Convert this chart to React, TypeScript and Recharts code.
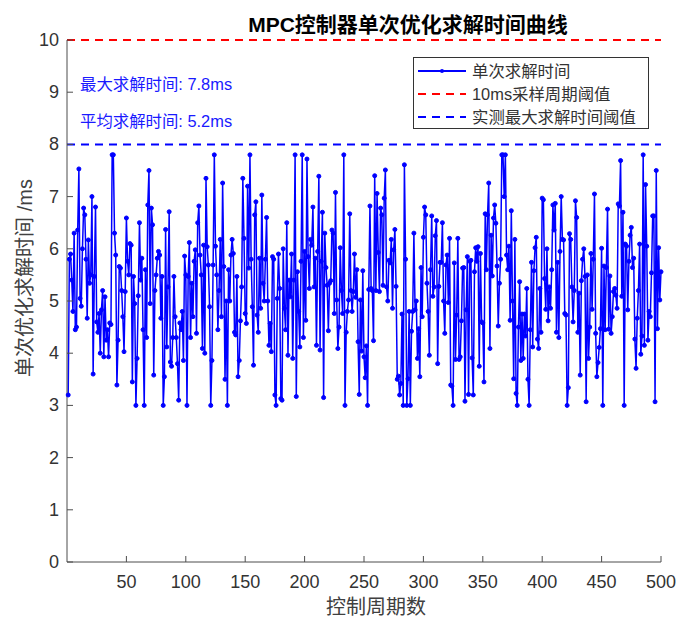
import { LineChart, Line, XAxis, YAxis, ReferenceLine } from "recharts";

// solve time per control cycle (ms) in six stretches
const timesA = [
  3.2, 5.8, 5.9, 5.4, 4.8, 6.3, 4.45, 4.5, 6.36, 7.53,
  5.05, 4.9, 6.0, 6.78, 6.65, 5.8, 4.67, 6.17, 5.34, 5.5,
  7.0, 3.6, 5.47, 6.8, 4.6, 4.4, 4.76, 4.0, 4.83, 5.2,
  3.93, 5.08, 4.25, 4.45, 3.93, 4.58, 4.55, 7.8, 7.8, 6.3,
  5.88, 3.39, 4.25, 5.66, 5.63, 5.2, 4.7, 4.03, 5.18, 6.59,
  5.76, 5.5, 6.1, 6.07, 3.45, 5.47, 4.95, 3.0, 3.9, 5.1,
  6.5, 5.4, 5.82, 4.45, 3.0, 5.6, 4.3, 6.84, 7.5, 4.95,
  6.78, 6.46, 3.58, 5.2, 5.5, 5.82, 5.95, 5.88, 4.67, 5.47,
  3.0,
];
const timesB = [
  3.55, 6.37, 4.12, 5.27, 6.71, 3.83, 3.75, 4.3, 5.47, 4.7,
  4.3, 3.8, 3.1, 4.58, 4.45, 4.8, 3.86, 5.86, 5.5,
  3.0, 5.47, 6.12, 4.3, 5.34, 4.7, 5.76, 5.98, 4.38,
  6.5, 6.82, 5.88, 5.5, 4.09, 6.07, 4.0, 7.35, 6.04,
  5.69, 4.89, 3.0, 3.86, 5.69, 7.8, 6.05, 5.5, 4.45, 5.2,
  6.18, 4.7, 7.26, 5.66, 3.5, 5.0, 3.0, 5.6, 5.0,
  5.88, 6.18, 5.91, 4.4, 4.35, 5.47, 3.55, 3.86, 4.62,
  5.27, 7.35, 6.2, 4.76, 4.57, 7.2, 5.63, 7.8, 5.8, 4.89,
  3.77, 6.65, 6.9, 4.73, 4.4, 5.82, 4.86, 7.03, 5.34,
];
const timesC = [
  5.0, 5.8, 6.6, 5.0, 4.15, 4.57, 4.03, 5.85, 5.8, 3.2,
  3.0, 5.05, 5.9, 5.24, 3.13, 3.1, 6.0, 4.86, 4.45, 6.5,
  3.96, 5.4, 5.08, 5.9, 3.9, 5.4, 7.8, 3.17, 5.56, 4.8,
  4.12, 5.76, 7.8, 4.3, 5.95, 4.63, 7.72, 5.85, 5.24,
  6.18, 6.07, 6.8, 5.27, 5.82, 4.15, 5.95, 7.39, 4.06, 5.76,
  6.7, 3.15, 6.3, 5.64, 5.3, 4.43, 5.34, 5.39, 6.36, 6.3,
  4.76, 7.08, 5.02, 4.09, 4.5, 6.02, 5.2, 4.76, 7.8,
  3.0, 4.4, 4.8, 5.02, 6.67, 5.2, 4.8, 5.18, 5.9, 5.07,
  5.6, 4.22, 3.21, 5.02, 4.04, 5.58,
];
const timesD = [
  3.93, 3.53, 4.14, 3.0, 5.22, 6.82, 5.24, 5.2, 4.24, 7.4,
  5.2, 7.06, 5.93, 5.18, 6.78, 6.65, 5.3, 6.97, 7.51, 5.27,
  5.0, 5.78, 5.73, 6.18, 4.86, 5.98, 6.37, 5.28, 3.5,
  3.56, 3.2, 3.42, 4.75, 3.0, 7.61, 5.8, 3.0, 3.51, 4.8,
  3.0, 4.42, 4.8, 6.3, 4.83, 5.0, 3.9, 4.47, 3.55, 5.64,
  4.7, 6.22, 6.8, 6.65, 5.34, 4.8, 3.96, 5.6, 6.63, 5.09,
  5.27, 6.25, 6.54, 3.8, 5.28, 5.74, 5.74, 6.5, 5.0,
  4.38, 5.69, 5.88, 4.97, 6.2, 3.39, 3.37, 3.0, 5.73, 3.88,
  4.73, 6.2, 3.88, 3.93, 4.62, 5.63,
];
const timesE = [
  5.64, 3.08, 4.83, 5.85, 3.21, 5.76, 5.78, 3.91, 3.2, 5.56,
  6.02, 5.76, 6.04, 3.75, 5.91, 4.6, 4.58, 3.45, 6.67, 5.6,
  6.65, 7.26, 4.09, 6.26, 5.48, 6.59, 6.84, 6.49, 5.67, 4.52,
  5.34, 5.8, 7.8, 7.8, 7.0, 7.8, 5.88, 5.6, 6.05, 4.63,
  6.73, 5.0, 3.51, 6.18, 3.23, 3.0, 4.5, 5.37, 3.86, 4.75,
  3.9, 4.75, 4.33, 5.24, 3.5, 3.0, 4.45, 5.74, 4.12,
  5.58, 6.02, 6.22, 4.27, 4.09, 5.24, 4.4, 6.97,
  6.94, 5.43, 4.84, 6.0, 4.62, 5.27, 4.86, 5.6, 6.84,
  6.36, 6.87, 4.4, 5.74, 4.3, 5.95, 7.0, 6.18,
];
const timesF = [
  6.17, 4.76, 4.73, 3.0, 3.34, 6.29, 6.18, 5.27, 4.6,
  5.2, 6.92, 6.6, 4.4, 5.15, 3.58, 5.39, 5.8, 6.0, 5.47,
  3.07, 5.5, 3.9, 4.5, 5.91, 4.84, 5.8, 7.05, 4.38,
  3.55, 3.82, 4.11, 4.47, 6.01, 3.0, 5.67, 4.45, 5.64, 6.76,
  4.46, 5.48, 4.38, 4.7, 5.18, 5.24, 5.11, 4.86, 6.86, 6.82,
  7.69, 5.09, 6.7, 3.0, 6.09, 6.05, 4.83, 5.76, 6.26, 6.41,
  5.64, 5.82, 4.27, 3.71, 4.67, 5.2, 6.09, 3.98, 4.33,
  7.8, 4.15, 7.23, 6.05, 4.25, 4.8, 4.7, 5.54, 6.63, 6.63,
  3.07, 7.5, 4.47, 6.02, 5.02, 5.56,
];

const xTicks = [50, 100, 150, 200, 250, 300, 350, 400, 450, 500];
const yTicks = [0, 1, 2, 3, 4, 5, 6, 7, 8, 9, 10];
const samplingLimit = 10;
const measuredMax = 8;
const legendNames = ["单次求解时间", "10ms采样周期阈值", "实测最大求解时间阈值"];

const allTimes = [...timesA, ...timesB, ...timesC, ...timesD, ...timesE, ...timesF];
const data = allTimes.map((t, i) => ({ cycle: i + 1, time: t }));

const FONT = "'Liberation Sans', Arial, 'Noto Sans CJK SC', sans-serif";
const AXIS = "#4d4d4d";
const TEXT = "#333";

const XTick = (props: any) => {
  const { x, y, payload } = props;
  return (
    <g>
      <line x1={x} x2={x} y1={y} y2={y - 6} stroke={AXIS} />
      <text x={x} y={y + 26} textAnchor="middle" fontSize={18} fill={TEXT} fontFamily={FONT}>
        {payload.value}
      </text>
    </g>
  );
};

const YTick = (props: any) => {
  const { x, y, payload } = props;
  return (
    <g>
      <line x1={x} x2={x + 6} y1={y} y2={y} stroke={AXIS} />
      <text x={x - 8} y={y + 6} textAnchor="end" fontSize={18} fill={TEXT} fontFamily={FONT}>
        {payload.value}
      </text>
    </g>
  );
};

function LegendBox() {
  const rows = [
    { name: legendNames[0], color: "#0000ff", dash: undefined, dot: true },
    { name: legendNames[1], color: "#ff0000", dash: "8 6", dot: false },
    { name: legendNames[2], color: "#0000ff", dash: "8 6", dot: false },
  ];
  return (
    <g>
      <rect x={413.5} y={57.5} width={235} height={71} fill="#fff" stroke="#333" strokeWidth={1} />
      {rows.map((r, i) => {
        const cy = 71 + i * 23;
        return (
          <g key={r.name}>
            <line x1={418} x2={466} y1={cy} y2={cy} stroke={r.color} strokeWidth={2} strokeDasharray={r.dash} />
            {r.dot && <circle cx={442} cy={cy} r={2} fill={r.color} />}
            <text x={472} y={cy + 6} fontSize={16.4} fill={TEXT} fontFamily={FONT}>
              {r.name}
            </text>
          </g>
        );
      })}
    </g>
  );
}

export default function App() {
  return (
    <div style={{ position: "absolute", left: 0, top: 0, background: "#fff" }}>
      <LineChart width={676} height={618} data={data} margin={{ top: 40, right: 15, left: 0, bottom: 0 }}>
        <XAxis
          dataKey="cycle"
          type="number"
          domain={[0, 500]}
          ticks={xTicks}
          height={56}
          axisLine={{ stroke: AXIS }}
          tickLine={false}
          tickSize={0}
          tickMargin={0}
          tick={<XTick />}
          interval={0}
        />
        <YAxis
          type="number"
          domain={[0, 10]}
          ticks={yTicks}
          width={67}
          axisLine={{ stroke: AXIS }}
          tickLine={false}
          tickSize={0}
          tickMargin={0}
          tick={<YTick />}
          interval={0}
        />
        <ReferenceLine y={samplingLimit} stroke="#ff0000" strokeWidth={2} strokeDasharray="8 6" />
        <ReferenceLine y={measuredMax} stroke="#0000ff" strokeWidth={2} strokeDasharray="8 6" />
        <Line
          dataKey="time"
          stroke="#0000ff"
          strokeWidth={1.5}
          dot={{ r: 2, fill: "#0000ff", stroke: "#0000ff", strokeWidth: 1 }}
          isAnimationActive={false}
        />
        <text x={408} y={32} textAnchor="middle" fontSize={21} fontWeight="bold" fill="#000" fontFamily={FONT}>
          MPC控制器单次优化求解时间曲线
        </text>
        <text x={80} y={90} fontSize={16.4} fill="#1a1aff" fontFamily={FONT}>
          最大求解时间: 7.8ms
        </text>
        <text x={80} y={127} fontSize={16.4} fill="#1a1aff" fontFamily={FONT}>
          平均求解时间: 5.2ms
        </text>
        <LegendBox />
        <text x={376} y={614} textAnchor="middle" fontSize={20} fill="#404040" fontFamily={FONT}>
          控制周期数
        </text>
        <text
          x={25}
          y={278}
          textAnchor="middle"
          fontSize={20}
          fill="#404040"
          fontFamily={FONT}
          transform="rotate(-90 25 278)"
          dominantBaseline="central"
        >
          单次优化求解时间 /ms
        </text>
      </LineChart>
    </div>
  );
}
